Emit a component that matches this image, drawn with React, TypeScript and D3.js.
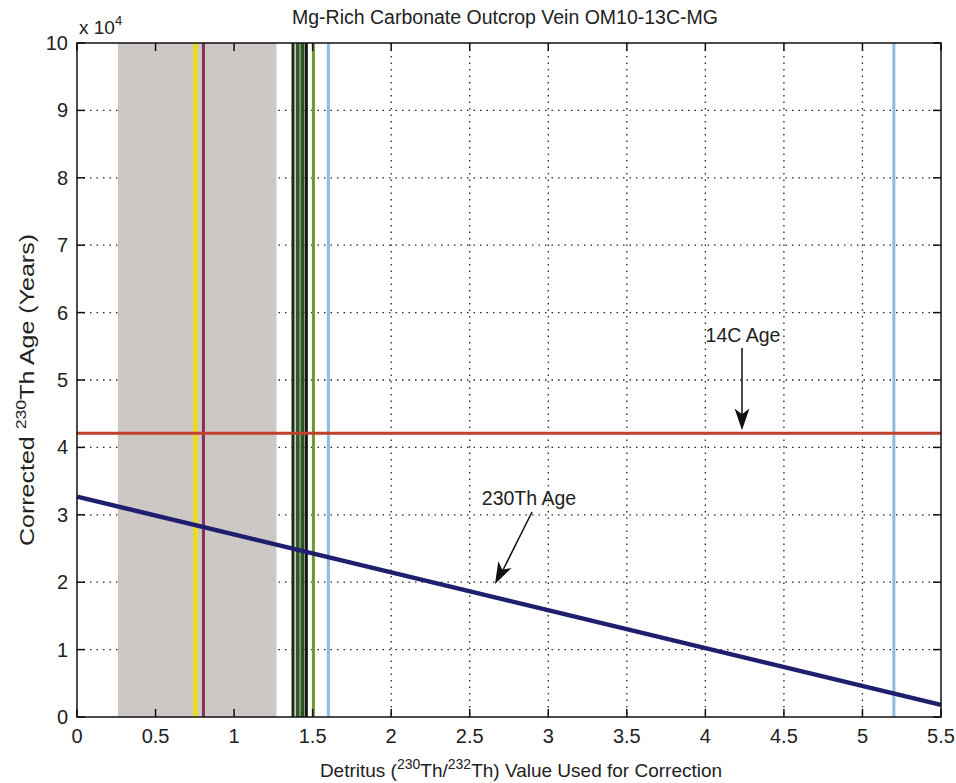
import React from "react";
import * as d3 from "d3";

// Axis ticks
const xTicks = [0, 0.5, 1, 1.5, 2, 2.5, 3, 3.5, 4, 4.5, 5, 5.5];
const yTicks = [0, 1, 2, 3, 4, 5, 6, 7, 8, 9, 10];

// Shaded detritus range (230Th/232Th)
const bandRange = [0.26, 1.27];

// Vertical reference lines: x value, colour, width
const vLineX = [0.755, 0.805, 1.375, 1.405, 1.435, 1.46, 1.505, 1.6, 5.2];
const vLineColor = ["#e8dc2a", "#8a2f55", "#1d2a18", "#2f5a22", "#2a5220", "#15180f", "#6c9a2c", "#8fbbdc", "#8fbbdc"];
const vLineWidth = [5, 3, 3, 4, 4, 3, 3, 3, 3];

// 14C age (years / 1e4)
const c14Age = 4.21;

// 230Th age line endpoints: detritus value -> corrected age (years / 1e4)
const thX = [0, 5.5];
const thAge = [3.27, 0.18];

export default function App() {
  const W = 956;
  const H = 783;
  const left = 77;
  const right = 941;
  const top = 43;
  const bottom = 717;

  const x = d3.scaleLinear().domain([0, 5.5]).range([left, right]);
  const y = d3.scaleLinear().domain([0, 10]).range([bottom, top]);

  const font = "'Liberation Sans', Arial, sans-serif";
  const line = d3.line<number>().x((d, i) => x(thX[i])).y((d) => y(d));

  const arrowHead = (x1: number, y1: number, x2: number, y2: number) => {
    const ang = Math.atan2(y2 - y1, x2 - x1);
    const len = 23;
    const spread = 0.33;
    const p1 = [x2 - len * Math.cos(ang - spread), y2 - len * Math.sin(ang - spread)];
    const p2 = [x2 - len * Math.cos(ang + spread), y2 - len * Math.sin(ang + spread)];
    const pm = [x2 - len * 0.7 * Math.cos(ang), y2 - len * 0.7 * Math.sin(ang)];
    return `M${x2},${y2}L${p1[0]},${p1[1]}L${pm[0]},${pm[1]}L${p2[0]},${p2[1]}Z`;
  };

  // annotation anchors
  const a14x = 742;
  const a14y0 = 348;
  const a14y1 = y(c14Age) - 3;
  const aThx0 = 532;
  const aThy0 = 512;
  const aThx1 = 495;
  const aThy1 = 584;

  return (
    <svg width={W} height={H} style={{ position: "absolute", left: 0, top: 0, background: "#fff" }}>
      <rect x={0} y={0} width={W} height={H} fill="#fff" />
      {/* grid */}
      {xTicks.slice(1, -1).map((t) => (
        <line key={"gx" + t} x1={x(t)} x2={x(t)} y1={top} y2={bottom} stroke="#222" strokeWidth={1.3} strokeDasharray="1.5 5" />
      ))}
      {yTicks.slice(1, -1).map((t) => (
        <line key={"gy" + t} x1={left} x2={right} y1={y(t)} y2={y(t)} stroke="#222" strokeWidth={1.3} strokeDasharray="1.5 5" />
      ))}
      {/* shaded band */}
      <rect x={x(bandRange[0])} y={top} width={x(bandRange[1]) - x(bandRange[0])} height={bottom - top} fill="#cdc7c5" />
      {/* vertical reference lines */}
      {vLineX.map((v, i) => (
        <line key={"v" + i} x1={x(v)} x2={x(v)} y1={top} y2={bottom} stroke={vLineColor[i]} strokeWidth={vLineWidth[i]} />
      ))}
      {/* 14C age */}
      <line x1={left} x2={right} y1={y(c14Age)} y2={y(c14Age)} stroke="#c0402c" strokeWidth={3} />
      {/* 230Th age */}
      <path d={line(thAge) || ""} fill="none" stroke="#1e1f6e" strokeWidth={4.5} />
      {/* axes box */}
      <rect x={left} y={top} width={right - left} height={bottom - top} fill="none" stroke="#111" strokeWidth={1.5} />
      {/* ticks */}
      {xTicks.map((t) => (
        <g key={"tx" + t}>
          <line x1={x(t)} x2={x(t)} y1={bottom} y2={bottom - 8} stroke="#111" strokeWidth={1.5} />
          <line x1={x(t)} x2={x(t)} y1={top} y2={top + 8} stroke="#111" strokeWidth={1.5} />
          <text x={x(t)} y={bottom + 26} textAnchor="middle" fontFamily={font} fontSize={20} fill="#222">
            {t}
          </text>
        </g>
      ))}
      {yTicks.map((t) => (
        <g key={"ty" + t}>
          <line x1={left} x2={left + 8} y1={y(t)} y2={y(t)} stroke="#111" strokeWidth={1.5} />
          <line x1={right} x2={right - 8} y1={y(t)} y2={y(t)} stroke="#111" strokeWidth={1.5} />
          <text x={left - 9} y={y(t) + 7} textAnchor="end" fontFamily={font} fontSize={20} fill="#222">
            {t}
          </text>
        </g>
      ))}
      <text x={79} y={34} fontFamily={font} fontSize={19} fill="#222">
        x 10<tspan dy={-9} fontSize={13}>4</tspan>
      </text>
      {/* title */}
      <text x={(left + right) / 2 - 4} y={24} textAnchor="middle" fontFamily={font} fontSize={19.5} fill="#222">
        Mg-Rich Carbonate Outcrop Vein OM10-13C-MG
      </text>
      {/* x label */}
      <text x={(left + right) / 2 + 12} y={777} textAnchor="middle" fontFamily={font} fontSize={19} fill="#222">
        Detritus (<tspan dy={-8} fontSize={14}>230</tspan><tspan dy={8}>Th/</tspan><tspan dy={-8} fontSize={14}>232</tspan><tspan dy={8}>Th) Value Used for Correction</tspan>
      </text>
      {/* y label */}
      <text transform={`translate(34,${390}) rotate(-90)`} textAnchor="middle" fontFamily={font} fontSize={20.5} fill="#222" textLength={312} lengthAdjust="spacingAndGlyphs">
        Corrected <tspan dy={-8} fontSize={14.5}>230</tspan><tspan dy={8}>Th Age (Years)</tspan>
      </text>
      {/* annotations */}
      <text x={a14x + 1} y={342} textAnchor="middle" fontFamily={font} fontSize={19.5} fill="#222">14C Age</text>
      <line x1={a14x} x2={a14x} y1={a14y0} y2={a14y1 - 10} stroke="#111" strokeWidth={1.5} />
      <path d={arrowHead(a14x, a14y0, a14x, a14y1)} fill="#111" />
      <text x={529} y={505} textAnchor="middle" fontFamily={font} fontSize={19.5} fill="#222">230Th Age</text>
      <line x1={aThx0} x2={aThx1 + 6} y1={aThy0} y2={aThy1 - 10} stroke="#111" strokeWidth={1.5} />
      <path d={arrowHead(aThx0, aThy0, aThx1, aThy1)} fill="#111" />
    </svg>
  );
}
